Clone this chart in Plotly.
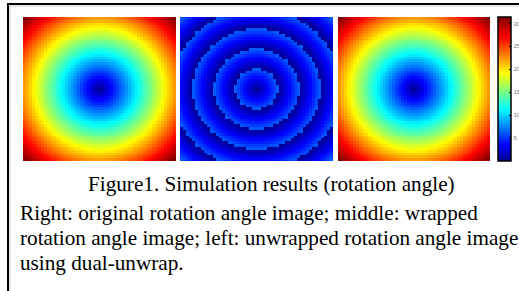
import numpy as np
import plotly.graph_objects as go

W, H = 519, 291

# ---- data ----
grid_size = 51                      # pixels per side of each simulated image
max_angle = 31.4                    # rotation angle at the image corners (about 10*pi)
wrap_period = 2 * np.pi             # wrapping period for the middle image
cbar_ticks = [5, 10, 15, 20, 25, 30]
caption_title = "Figure1. Simulation results (rotation angle)"
caption_lines = [
    "Right: original rotation angle image; middle: wrapped",
    "rotation angle image; left: unwrapped rotation angle image",
    "using dual-unwrap.",
]

coords = np.linspace(-1, 1, grid_size)
xx, yy = np.meshgrid(coords, coords)
dist = np.sqrt(xx**2 + yy**2) / np.sqrt(2)
original = max_angle * dist
wrapped = np.mod(original, wrap_period)
unwrapped = original.copy()

jet = [
    [0.0, "rgb(0,0,143)"],
    [0.11, "rgb(0,0,255)"],
    [0.36, "rgb(0,255,255)"],
    [0.61, "rgb(255,255,0)"],
    [0.86, "rgb(255,0,0)"],
    [1.0, "rgb(128,0,0)"],
]

def px_x(p):
    return p / W

def px_y(p):
    return 1 - p / H

panels = [(23, 176), (180, 333), (338, 490)]
top, bottom = 17, 161
images = [unwrapped, wrapped, original]

fig = go.Figure()
for i, (img, (x0, x1)) in enumerate(zip(images, panels)):
    ax = "" if i == 0 else str(i + 1)
    trace = go.Heatmap(
        z=img, colorscale=jet, zmin=0, zmax=max_angle,
        xaxis="x" + ax, yaxis="y" + ax,
        showscale=(i == 2), hoverinfo="skip",
    )
    if i == 2:
        trace.colorbar = dict(
            x=px_x(498), xanchor="left", xpad=0, ypad=0,
            y=px_y((top + bottom) / 2), yanchor="middle",
            len=(bottom - top) / H, lenmode="fraction",
            thickness=13, thicknessmode="pixels",
            outlinecolor="black", outlinewidth=1.5,
            tickvals=cbar_ticks, ticks="inside", ticklen=2,
            tickcolor="black", tickfont=dict(size=6, color="#777", family="Liberation Sans"),
        )
    fig.add_trace(trace)
    fig.layout["xaxis" + ax] = dict(domain=[px_x(x0), px_x(x1)], visible=False,
                                     anchor="y" + ax)
    fig.layout["yaxis" + ax] = dict(domain=[px_y(bottom), px_y(top)], visible=False,
                                     anchor="x" + ax)

shapes = [
    dict(type="line", xref="paper", yref="paper", x0=px_x(7), x1=1, y0=px_y(4), y1=px_y(4),
         line=dict(color="black", width=2)),
    dict(type="line", xref="paper", yref="paper", x0=px_x(8), x1=px_x(8), y0=px_y(3), y1=0,
         line=dict(color="black", width=2)),
    dict(type="line", xref="paper", yref="paper", x0=px_x(10), x1=1, y0=px_y(6), y1=px_y(6),
         line=dict(color="#cccccc", width=1)),
    dict(type="line", xref="paper", yref="paper", x0=px_x(10), x1=px_x(10), y0=px_y(6), y1=0,
         line=dict(color="#cccccc", width=1)),
]

font = dict(family="Liberation Serif", size=21.2, color="black")
annotations = [
    dict(text=caption_title, xref="paper", yref="paper", x=px_x(271), y=px_y(184),
         xanchor="center", yanchor="middle", showarrow=False, font=font),
]
for k, line in enumerate(caption_lines):
    annotations.append(dict(text=line, xref="paper", yref="paper", x=px_x(18),
                            y=px_y(213 + 25 * k), xanchor="left", yanchor="middle",
                            showarrow=False, font=font))

fig.update_layout(
    width=W, height=H, margin=dict(l=0, r=0, t=0, b=0, autoexpand=False),
    paper_bgcolor="white", plot_bgcolor="white",
    shapes=shapes, annotations=annotations, showlegend=False,
)
fig.write_html(
    "out.html",
    config={"displayModeBar": False, "staticPlot": True},
    post_script="document.body.style.margin='0px';document.body.style.overflow='hidden';",
)
